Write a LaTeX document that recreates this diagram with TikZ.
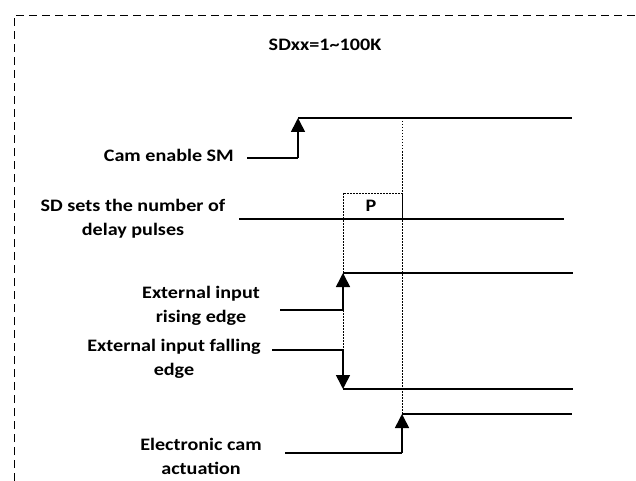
\documentclass[tikz,border=0pt]{standalone}
\usepackage{fontspec}
\setmainfont{Carlito}[FakeStretch=1.15]
\usetikzlibrary{arrows.meta}
\begin{document}
\begin{tikzpicture}[x=1pt,y=-1pt,
  lbl/.style={font=\bfseries\fontsize{17.5}{24}\selectfont, align=center, inner sep=0pt},
  wave/.style={line width=1.6pt},
  sig/.style={line width=1.6pt, -{Triangle[length=14pt,width=14pt]}},
  guide/.style={line width=0.8pt, dash pattern=on 1.5pt off 1.5pt},
  frame/.style={line width=0.9pt, dash pattern=on 8pt off 5pt}]
\useasboundingbox (0,0) rectangle (636,481);
% frame
\coordinate (fbl) at (14,481);
\coordinate (ftl) at (14,15);
\coordinate (ftr) at (636,15);
\draw[frame] (fbl) -- (ftl) -- (ftr);
% title
\node[lbl] (title) at (325,45) {SDxx=1\textasciitilde100K};
% Cam enable SM
\node[lbl, anchor=east] (cam) at (234,155) {Cam enable SM};
\coordinate (c0) at (247,158);
\coordinate (c1) at (298,158);
\coordinate (c2) at (298,118);
\coordinate (c3) at (572,118);
\draw[wave] (c0) -- (c1);
\draw[sig] (c1) -- (c2);
\draw[wave] (c2) -- (c3);
% SD sets
\node[lbl] (sd) at (133,219) {SD sets the number of\\delay pulses};
\coordinate (s0) at (239,219);
\coordinate (s1) at (564,219);
\draw[wave] (s0) -- (s1);
\coordinate (pa) at (343,193);
\coordinate (pb) at (402,219);
\draw[guide] (343,219) |- (pa) -| (pb);
\node[lbl] (P) at (371,206) {P};
% rising edge
\node[lbl] (rise) at (201,306) {External input\\rising edge};
\coordinate (r0) at (280,310);
\coordinate (r1) at (343,310);
\coordinate (r2) at (343,273);
\coordinate (r3) at (573,273);
\draw[wave] (r0) -- (r1);
\draw[sig] (r1) -- (r2);
\draw[wave] (r2) -- (r3);
% falling edge
\node[lbl] (fall) at (174,359) {External input falling\\edge};
\coordinate (f0) at (272,350);
\coordinate (f1) at (343,350);
\coordinate (f2) at (343,389);
\coordinate (f3) at (573,389);
\draw[wave] (f0) -- (f1);
\draw[sig] (f1) -- (f2);
\draw[wave] (f2) -- (f3);
% electronic cam
\node[lbl] (ecam) at (201,456) {Electronic cam\\actuation};
\coordinate (e0) at (285,453);
\coordinate (e1) at (402,453);
\coordinate (e2) at (402,414);
\coordinate (e3) at (572,414);
\draw[wave] (e0) -- (e1);
\draw[sig] (e1) -- (e2);
\draw[wave] (e2) -- (e3);
% guides
\draw[guide] (c3 -| e2) -- (e2);
\draw[guide] (pa) -- (f1);
\end{tikzpicture}
\end{document}
